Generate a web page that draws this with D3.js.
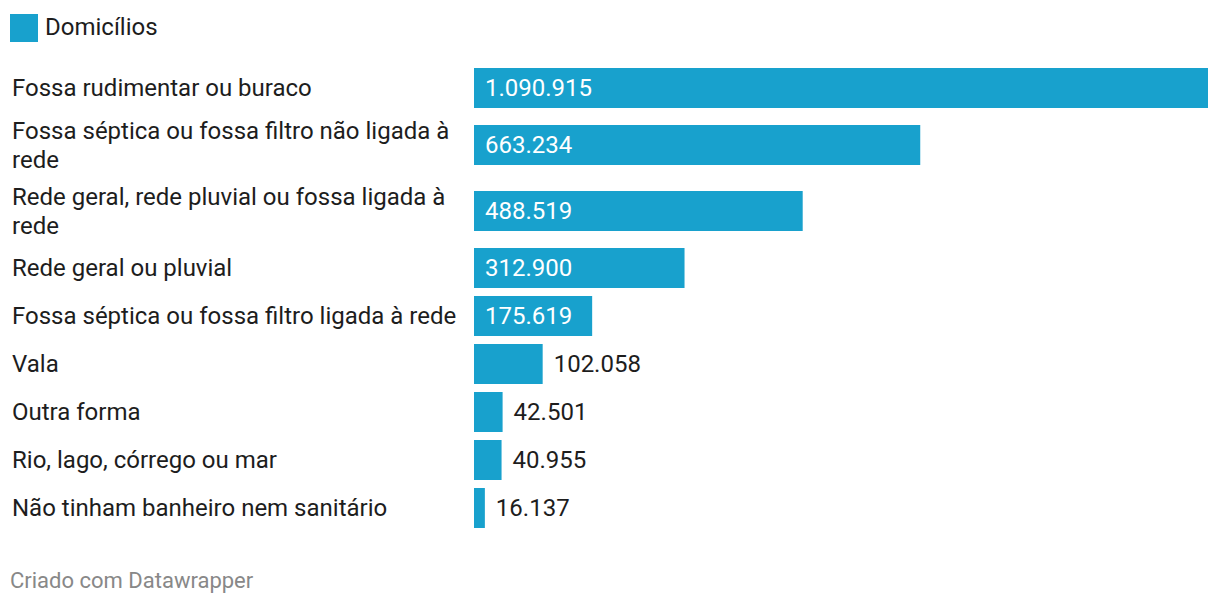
<!DOCTYPE html>
<html lang="pt">
<head>
<meta charset="UTF-8">
<title>Domicílios</title>
<script src="https://cdn.jsdelivr.net/npm/d3@7"></script>
<style>
  body { margin: 0; background: #fff; }
  text { font-family: Roboto, sans-serif; }
</style>
</head>
<body>
<svg width="1220" height="604"></svg>
<script>
    const categories = [
        ["Fossa rudimentar ou buraco"],
        ["Fossa séptica ou fossa filtro não ligada à", "rede"],
        ["Rede geral, rede pluvial ou fossa ligada à", "rede"],
        ["Rede geral ou pluvial"],
        ["Fossa séptica ou fossa filtro ligada à rede"],
        ["Vala"],
        ["Outra forma"],
        ["Rio, lago, córrego ou mar"],
        ["Não tinham banheiro nem sanitário"]
    ]
    const values = [1090915, 663234, 488519, 312900, 175619, 102058, 42501, 40955, 16137]
    const seriesName = "Domicílios"
    const footer = "Criado com Datawrapper"

    const color = "#18a1cd"
    const textColor = "#1d1d1d"
    const fontSize = 24
    const barH = 40
    const gap = 8
    const lineH = 29
    const chartTop = 68

    const svg = d3.select("svg")
    const fmt = d3.formatLocale({decimal: ",", thousands: ".", grouping: [3], currency: ["R$", ""]}).format(",d")

    // row layout: two-line labels get a taller slot
    let y0 = chartTop
    const rows = categories.map((lines, i) => {
        const h = lines.length > 1 ? 58 : barH
        const r = {lines: lines, value: values[i], y: y0, h: h}
        y0 += h + gap
        return r
    })

    const x = d3.scaleLinear()
        .domain([0, d3.max(values)])
        .range([474, 1208])

    // legend
    svg.append("rect")
        .attr("x", 10).attr("y", 14)
        .attr("width", 28).attr("height", 28)
        .attr("fill", color)
    svg.append("text")
        .attr("x", 45).attr("y", 27)
        .attr("dy", "0.35em")
        .attr("font-size", fontSize)
        .attr("fill", textColor)
        .text(seriesName)

    const row = svg.append("g").selectAll("g")
        .data(rows)
        .enter()
        .append("g")
        .attr("transform", d => `translate(0,${d.y + d.h / 2})`)

    row.append("text")
        .attr("x", 12)
        .attr("font-size", fontSize)
        .attr("fill", textColor)
        .selectAll("tspan")
        .data(d => d.lines.map((t, j) => ({t: t, dy: (j - (d.lines.length - 1) / 2) * lineH})))
        .enter()
        .append("tspan")
        .attr("x", 12)
        .attr("y", d => d.dy)
        .attr("dy", "0.35em")
        .text(d => d.t)

    row.append("rect")
        .attr("x", x(0))
        .attr("y", -barH / 2)
        .attr("width", d => Math.max(x(d.value) - x(0), 1))
        .attr("height", barH)
        .attr("fill", color)

    row.append("text")
        .attr("font-size", fontSize)
        .attr("dy", "0.35em")
        .text(d => fmt(d.value))
        .each(function(d) {
            const w = this.getComputedTextLength()
            const bw = x(d.value) - x(0)
            const inside = bw > w + 20
            d3.select(this)
                .attr("x", inside ? x(0) + 11 : x(d.value) + 11)
                .attr("fill", inside ? "#fff" : textColor)
        })

    svg.append("text")
        .attr("x", 10).attr("y", 580)
        .attr("dy", "0.35em")
        .attr("font-size", 22)
        .attr("fill", "#888")
        .text(footer)
</script>
</body>
</html>
